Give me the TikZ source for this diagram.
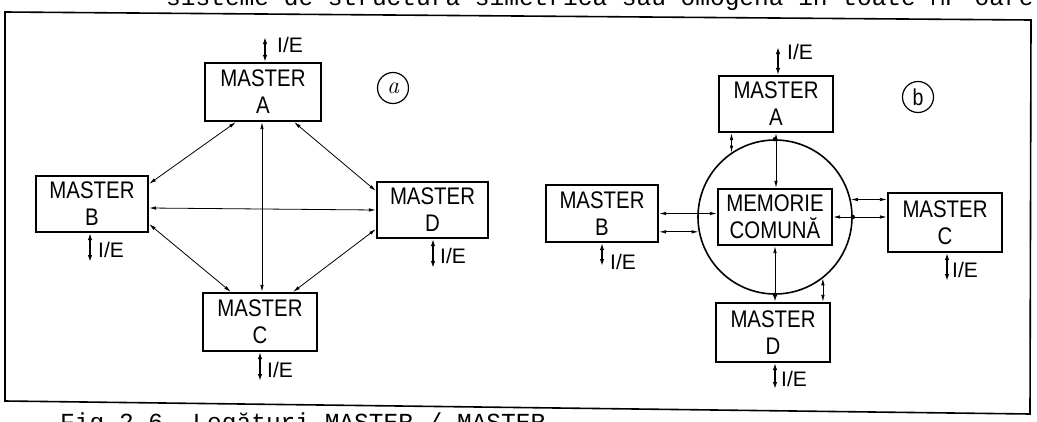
\documentclass[tikz,border=0pt]{standalone}
\usepackage{fontspec}
\newfontfamily\boxfont[FakeStretch=0.85]{Liberation Sans}
\newfontfamily\iofont{Liberation Sans}
\setmonofont{Liberation Mono}
\usetikzlibrary{arrows.meta}
\begin{document}
\begin{tikzpicture}[x=1pt,y=-1pt,
  box/.style={draw,line width=2.2pt,align=center,inner sep=0pt,
    font=\boxfont\fontsize{24}{27}\selectfont},
  link/.style={line width=0.8pt,{Latex[length=7pt,width=3.5pt]}-{Latex[length=7pt,width=3.5pt]}},
  io/.style={line width=1.5pt,{Latex[length=7pt,width=4.5pt]}-{Latex[length=7pt,width=4.5pt]}},
  iolabel/.style={anchor=west,inner sep=0pt,font=\iofont\fontsize{21}{21}\selectfont},
  dot/.style={circle,fill,inner sep=0pt,minimum size=4.5pt},
  tag/.style={circle,draw,line width=1.2pt,minimum size=31pt,inner sep=0pt},
  typed/.style={anchor=base west,inner sep=0pt,font=\ttfamily\fontsize{24.5}{24.5}\selectfont}]
\useasboundingbox (0,0) rectangle (1037,421);
\clip (0,0) rectangle (1037,421);

% clipped typewritten lines of the page
\node[typed] (toptext) at (166,5) {sisteme de structura simetrica sau omogena in toate MP-oare};
\node[typed] (bottomtext) at (60,430) {Fig.2.6. Legături MASTER / MASTER};

% frame
\draw[line width=1.6pt] (5,12) -- (1031,20) -- (1030,414) -- (5,401) -- cycle;

% ---------------- (a) ----------------
\node[box,minimum width=116pt,minimum height=58pt] (aA) at (263,92) {MASTER\\A};
\node[box,minimum width=112pt,minimum height=56pt] (aB) at (92,204) {MASTER\\B};
\node[box,minimum width=111pt,minimum height=56pt] (aD) at (432.5,210) {MASTER\\D};
\node[box,minimum width=114pt,minimum height=58pt] (aC) at (260,322) {MASTER\\C};
\node[tag,font=\fontsize{24}{24}\selectfont\itshape] (taga) at (393,88) {a};

\draw[link] ([xshift=32pt]aA.south west) -- ([yshift=-9pt]aB.north east);
\draw[link] ([xshift=-28pt]aA.south east) -- ([yshift=-10pt]aD.north west);
\draw[link] ([xshift=-1pt]aA.south) -- ([xshift=-1pt]aA.south |- aC.north);
\draw[link] ([yshift=-4pt]aB.east) -- (aD.west);
\draw[link] ([yshift=9pt]aB.south east) -- ([xshift=29pt]aC.north west);
\draw[link] ([yshift=10pt]aD.south west) -- ([xshift=-25pt]aC.north east);

\coordinate (ioaA) at (265,37);
\coordinate (ioaB) at (90,262);
\coordinate (ioaD) at (433,268);
\coordinate (ioaC) at (260,381);
\draw[io] (ioaA |- aA.north) -- (ioaA);
\draw[io] (ioaB |- aB.south) -- (ioaB);
\draw[io] (ioaD |- aD.south) -- (ioaD);
\draw[io] (ioaC |- aC.south) -- (ioaC);
\node[iolabel] (laA) at (277,45) {I/E};
\node[iolabel] (laB) at (98,250) {I/E};
\node[iolabel] (laD) at (440,256) {I/E};
\node[iolabel] (laC) at (267,370) {I/E};

% ---------------- (b) ----------------
\node[circle,draw,line width=1.6pt,minimum size=154pt,inner sep=0pt] (circ) at (775,217) {};
\node[box,minimum width=114pt,minimum height=56pt] (bA) at (776,104) {MASTER\\A};
\node[box,minimum width=114pt,minimum height=56pt] (bMem) at (775,217) {MEMORIE\\COMUNĂ};
\node[box,minimum width=112pt,minimum height=57pt] (bB) at (602,213.5) {MASTER\\B};
\node[box,minimum width=114pt,minimum height=59pt] (bC) at (945,222.5) {MASTER\\C};
\node[box,minimum width=114pt,minimum height=59pt] (bD) at (773,332.5) {MASTER\\D};
\node[tag,font=\boxfont\fontsize{23}{23}\selectfont] (tagb) at (918,97) {b};

\draw[link] (circ.124 |- bA.south) -- (circ.124);
\draw[link] (bA.south) -- (bA.south |- bMem.north);
\node[dot] at (circ.north) {};
\draw[link] (bB.east) -- (bB.east -| bMem.west);
\draw[link] (circ.191 -| bB.east) -- (circ.191);
\draw[link] (bMem.east) -- (bMem.east -| bC.west);
\node[dot] at (circ.east) {};
\draw[link] (circ.13) -- (circ.13 -| bC.west);
\draw[link] (bMem.south) -- (bMem.south |- bD.north);
\node[dot] at (circ.south) {};
\draw[link] (circ.-52) -- (circ.-52 |- bD.north);

\coordinate (iobA) at (778,47);
\coordinate (iobB) at (602,266);
\coordinate (iobC) at (947,281);
\coordinate (iobD) at (775,389);
\draw[io] (iobA |- bA.north) -- (iobA);
\draw[io] (iobB |- bB.south) -- (iobB);
\draw[io] (iobC |- bC.south) -- (iobC);
\draw[io] (iobD |- bD.south) -- (iobD);
\node[iolabel] (lbA) at (787,52) {I/E};
\node[iolabel] (lbB) at (610,262) {I/E};
\node[iolabel] (lbC) at (952,270) {I/E};
\node[iolabel] (lbD) at (781,379) {I/E};
\end{tikzpicture}
\end{document}
